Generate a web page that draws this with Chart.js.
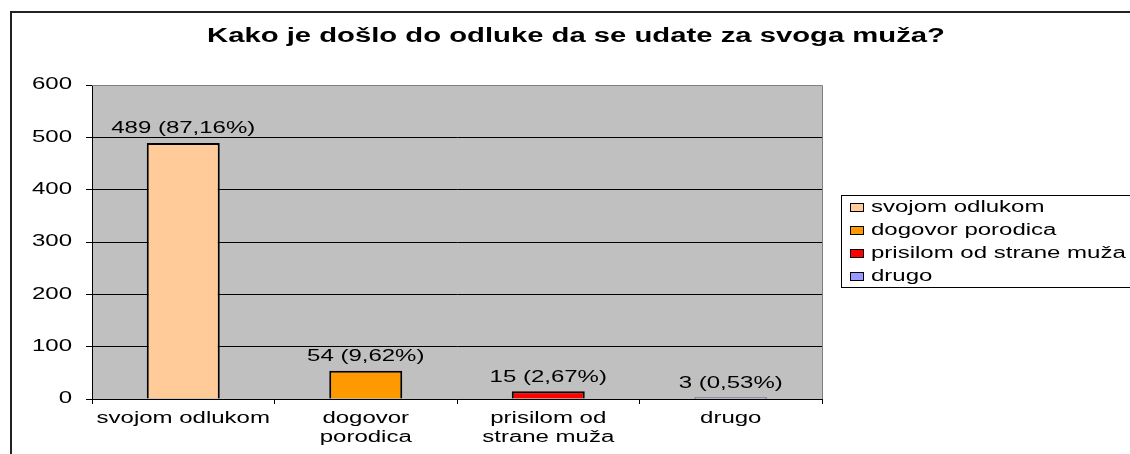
<!DOCTYPE html>
<html lang="sr">
<head>
    <meta charset="UTF-8">
    <title>Kako je došlo do odluke da se udate za svoga muža?</title>
    <script src="https://cdn.jsdelivr.net/npm/chart.js@4/dist/chart.umd.min.js"></script>
    <style>
        body {
            margin: 0;
            background: white;
        }
        .chart-box {
            width: 1130px;
            height: 454px;
        }
    </style>
</head>
<body>
<div class="chart-box">
    <canvas id="odlukaChart" width="1130" height="454"></canvas>
</div>

<script>
    // podaci
    const chartTitle = 'Kako je došlo do odluke da se udate za svoga muža?';
    const categories = [['svojom odlukom'], ['dogovor', 'porodica'], ['prisilom od', 'strane muža'], ['drugo']];
    const legendNames = ['svojom odlukom', 'dogovor porodica', 'prisilom od strane muža', 'drugo'];
    const counts = [489, 54, 15, 3];
    const percents = ['87,16%', '9,62%', '2,67%', '0,53%'];
    const barColors = ['#FFCC99', '#FF9900', '#FF0000', '#9999FF'];
    const yMax = 600;
    const yStep = 100;

    const FONT = '"Liberation Sans", Arial, sans-serif';
    const STRETCH = 1.5;   // tekst u originalu je razvucen po sirini

    // okvir, pozadina grafika, naslov, legenda i vrednosti iznad stubova
    const excelLook = {
        id: 'excelLook',
        afterInit(chart) {
            const ctx = chart.ctx;
            const fill = ctx.fillText;
            ctx.fillText = function (text, x, y) {
                this.save();
                this.translate(x, y);
                this.scale(STRETCH, 1);
                fill.call(this, text, 0, 0);
                this.restore();
            };
        },
        beforeDraw(chart) {
            const ctx = chart.ctx;
            const a = chart.chartArea;
            ctx.save();
            ctx.fillStyle = '#C0C0C0';
            ctx.fillRect(a.left, a.top, a.right - a.left, a.bottom - a.top);

            // spoljni okvir
            ctx.strokeStyle = '#222';
            ctx.lineWidth = 2;
            ctx.beginPath();
            ctx.moveTo(11, chart.height + 5);
            ctx.lineTo(11, 12);
            ctx.lineTo(chart.width + 5, 12);
            ctx.stroke();

            // naslov
            ctx.fillStyle = '#000';
            ctx.font = 'bold 19.5px ' + FONT;
            ctx.textAlign = 'center';
            ctx.textBaseline = 'middle';
            ctx.fillText(chartTitle, 576, 37);
            ctx.restore();
        },
        afterDraw(chart) {
            const ctx = chart.ctx;
            const a = chart.chartArea;
            ctx.save();

            // sivi okvir gore i desno
            ctx.strokeStyle = '#808080';
            ctx.lineWidth = 1;
            ctx.beginPath();
            ctx.moveTo(a.left, a.top + 0.5);
            ctx.lineTo(a.right + 0.5, a.top + 0.5);
            ctx.lineTo(a.right + 0.5, a.bottom);
            ctx.stroke();

            // vrednosti iznad stubova
            ctx.fillStyle = '#000';
            ctx.font = '16px ' + FONT;
            ctx.textAlign = 'center';
            ctx.textBaseline = 'middle';
            chart.getDatasetMeta(0).data.forEach((bar, i) => {
                ctx.fillText(counts[i] + ' (' + percents[i] + ')', bar.x, bar.y - 14);
            });

            // legenda
            ctx.strokeStyle = '#000';
            ctx.strokeRect(841.5, 195.5, 300, 92);
            ctx.font = '16px ' + FONT;
            ctx.textAlign = 'left';
            legendNames.forEach((name, i) => {
                const y = 208 + i * 23;
                ctx.fillStyle = barColors[i];
                ctx.fillRect(850.5, y - 4.5, 13, 8);
                ctx.strokeRect(850.5, y - 4.5, 13, 8);
                ctx.fillStyle = '#000';
                ctx.fillText(name, 871, y);
            });
            ctx.restore();
        }
    };

    const odlukaChart = new Chart(
        document.getElementById('odlukaChart'),
        {
            type: 'bar',
            data: {
                labels: categories,
                datasets: [{
                    label: chartTitle,
                    data: counts,
                    backgroundColor: barColors,
                    borderColor: '#000',
                    borderWidth: 2,
                    categoryPercentage: 1,
                    barPercentage: 0.4
                }]
            },
            options: {
                responsive: false,
                animation: false,
                layout: {
                    padding: { left: 0, right: 308, top: 85, bottom: 0 }
                },
                plugins: {
                    legend: { display: false },
                    title: { display: false },
                    tooltip: { enabled: false }
                },
                scales: {
                    x: {
                        afterFit(scale) { scale.height = 55; },
                        grid: {
                            drawOnChartArea: false,
                            drawTicks: true,
                            tickLength: 5,
                            color: '#000'
                        },
                        border: { color: '#000', width: 1 },
                        ticks: {
                            color: '#000',
                            font: { family: FONT, size: 16 },
                            padding: 5,
                            maxRotation: 0,
                            autoSkip: false
                        }
                    },
                    y: {
                        min: 0,
                        max: yMax,
                        afterFit(scale) { scale.width = 92; },
                        grid: {
                            color: (c) => c.tick && c.tick.value === yMax ? '#808080' : '#000',
                            tickColor: '#000',
                            tickLength: 6
                        },
                        border: { color: '#000', width: 1 },
                        ticks: {
                            stepSize: yStep,
                            color: '#000',
                            font: { family: FONT, size: 16 },
                            padding: 14
                        }
                    }
                }
            },
            plugins: [excelLook]
        }
    );
</script>
</body>
</html>
